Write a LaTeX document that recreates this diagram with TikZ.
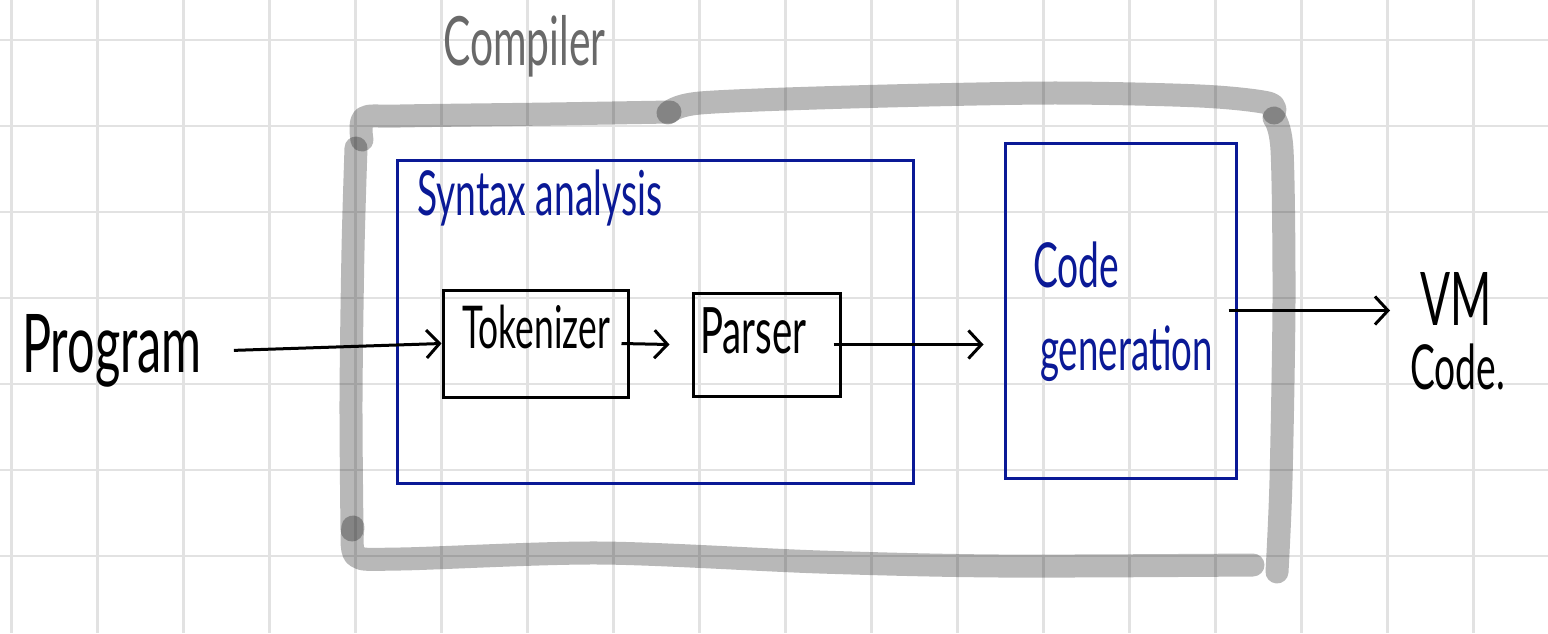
\documentclass[tikz,border=0pt]{standalone}
\usepackage{fontspec}
\setmainfont[FakeStretch=0.6]{Lato}
\usetikzlibrary{arrows.meta}
\definecolor{penblue}{RGB}{10,25,150}
\definecolor{pengray}{RGB}{105,105,105}
\definecolor{gridgray}{RGB}{226,226,226}
\newcommand\fsz[2]{\fontsize{#1}{#2}\selectfont}
\tikzset{
  gridline/.style={draw=gridgray, line width=2.5pt},
  marker/.style={draw=black, draw opacity=0.28, line width=23pt, line cap=round, line join=round},
  blubox/.style={draw=penblue, line width=3pt, inner sep=0pt},
  blkbox/.style={draw=black, line width=3pt, inner sep=0pt},
  conn/.style={draw=black, line width=3pt, -{Straight Barb[length=13pt,width=28pt]}},
  hand/.style={inner sep=0pt, anchor=base west},
}
\begin{document}
\begin{tikzpicture}[x=1pt,y=1pt,yscale=-1,xscale=1]
\useasboundingbox (0,0) rectangle (1548,633);
\fill[white] (0,0) rectangle (1548,633);

%Grid
\foreach \gx in {0,...,17}
  \draw[gridline] ({11.7+86*\gx},0) -- ({11.7+86*\gx},633);
\foreach \gy in {0,...,6}
  \draw[gridline] (0,{40+86*\gy}) -- (1548,{40+86*\gy});

%Shape: Marker strokes (Compiler)
\draw[marker] plot[smooth, tension=0.5] coordinates {(362,140) (364,118) (400,116) (550,114) (670,112)};
\draw[marker] plot[smooth, tension=0.5] coordinates {(356,148) (353,250) (351,400) (352,530)};
\draw[marker] plot[smooth, tension=0.5] coordinates {(353,527) (356,556) (400,559) (600,553) (820,562) (1000,566) (1253,565)};
\draw[marker] plot[smooth, tension=0.5] coordinates {(668,113) (700,103) (850,97) (1050,93) (1200,96) (1268,103) (1274,113)};
\draw[marker] plot[smooth, tension=0.5] coordinates {(1274,118) (1282,150) (1284,300) (1281,480) (1277,572)};

%Shape: Rectangle
\node[blubox, minimum width=516pt, minimum height=323pt] (syn) at (655,321.5) {};
\node[blkbox, minimum width=185pt, minimum height=107pt] (tok) at (535.5,343.5) {};
\node[blkbox, minimum width=147pt, minimum height=103pt] (par) at (766.5,344.5) {};
\node[blubox, minimum width=231pt, minimum height=335pt] (gen) at (1120.5,310.5) {};

% Text Node
\node[hand, text=pengray] (comp) at (443,65) {\fsz{68}{68}Compiler};
\node[hand, text=penblue] (syntxt) at (417,215) {\fsz{62}{62}Syntax analysis};
\node[hand] (prog) at (22,372) {\fsz{81}{81}Program};
\node[hand] (toktxt) at (462,348) {\fsz{59}{59}Tokenizer};
\node[hand] (partxt) at (700,353) {\fsz{64}{64}Parser};
\node[hand, text=penblue] (gentxt) at (1033,287) {\fsz{62}{62}Code};
\node[hand, text=penblue] (gentxtb) at (1040,370) {\fsz{61}{61}generation};
\node[hand] (vm) at (1420,325) {\fsz{74}{74}VM};
\node[hand] (vmcode) at (1410,389) {\fsz{62}{62}Code.};

%Straight Lines
\draw[conn] ([xshift=32pt]prog.east) -- (tok.west);
\draw[conn] ([xshift=-8pt]tok.east) -- ([xshift=-22pt]par.west);
\draw[conn] ([xshift=-8pt]par.east) -- ([xshift=-20pt]par.east -| gen.west);
\draw[conn] ([xshift=-9pt]gen.east) -- ([xshift=-30pt]gen.east -| vm.west);

\end{tikzpicture}
\end{document}
